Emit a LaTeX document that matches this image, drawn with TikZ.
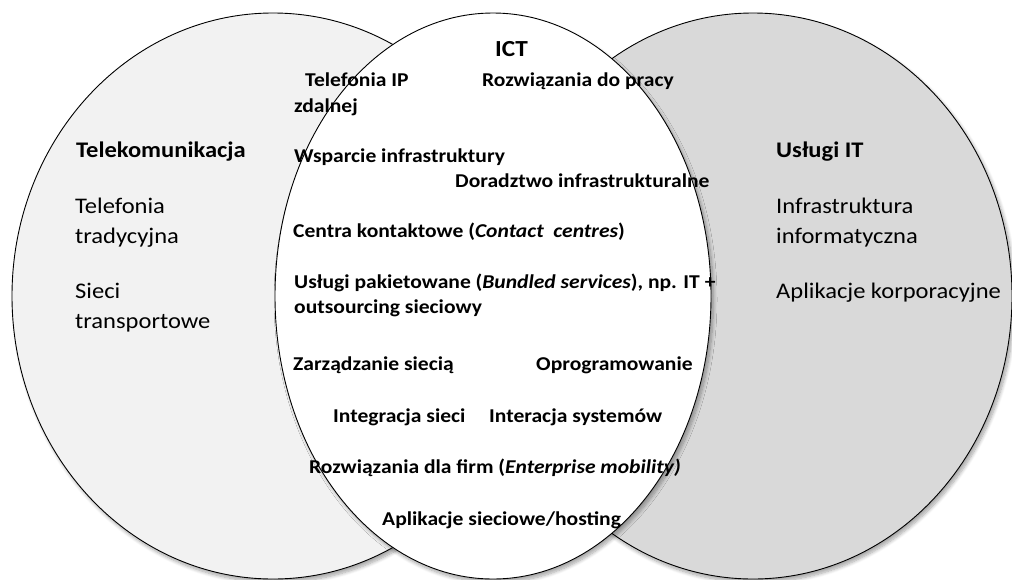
\documentclass[tikz,border=0pt]{standalone}
\usepackage{fontspec}
\setmainfont{Carlito}[FakeStretch=1.1]
\usetikzlibrary{shapes.geometric,shadows.blur}
\definecolor{telefill}{HTML}{F2F2F2}
\definecolor{itfill}{HTML}{D9D9D9}
\tikzset{
  circ/.style={ellipse, draw=black, line width=0.9pt, inner sep=0pt,
    blur shadow={shadow xshift=2.5pt, shadow yshift=-3.5pt, shadow blur radius=3.5pt, shadow blur steps=8, shadow opacity=35}},
  inner/.style={anchor=base west, inner sep=0pt, font=\fontsize{19.6}{23}\selectfont\bfseries},
  outer/.style={anchor=base west, inner sep=0pt, font=\fontsize{22.3}{26}\selectfont},
  outerhead/.style={outer, font=\fontsize{22.3}{26}\selectfont\bfseries},
}
\begin{document}
\begin{tikzpicture}[x=1pt,y=-1pt]
\useasboundingbox (0,0) rectangle (1012,579);
\node[circ, fill=telefill, minimum width=522pt, minimum height=566pt] (tele) at (273,296) {};
\node[circ, fill=itfill, minimum width=518pt, minimum height=566pt] (it) at (753,296) {};
\node[circ, fill=white, minimum width=436pt, minimum height=566pt] (ict) at (493,296) {};

% left
\node[outerhead] (tk) at (76,157) {Telekomunikacja};
\node[outer] (t1) at (75,213) {Telefonia};
\node[outer] (t2) at (75,243) {tradycyjna};
\node[outer] (t3) at (75,298) {Sieci};
\node[outer] (t4) at (75,328) {transportowe};

% right
\node[outerhead] (ih) at (776,157) {Usługi IT};
\node[outer] (i1) at (776,213) {Infrastruktura};
\node[outer] (i2) at (776,243) {informatyczna};
\node[outer] (i3) at (776,298) {Aplikacje korporacyjne};

% middle
\node[inner, font=\fontsize{23}{27}\selectfont\bfseries] (icth) at (495,56) {ICT};
\node[inner] (m1) at (305,86) {Telefonia IP};
\node[inner] (m2) at (482,86) {Rozwiązania do pracy};
\node[inner] (m3) at (294,112) {zdalnej};
\node[inner] (m4) at (294,162) {Wsparcie infrastruktury};
\node[inner] (m5) at (455,187) {Doradztwo infrastrukturalne};
\node[inner] (m6) at (293,237) {Centra kontaktowe (\textit{Contact\ \ centres})};
\node[inner] (m7) at (294,288) {Usługi pakietowane (\textit{Bundled services}), np. IT +};
\node[inner] (m8) at (294,313) {outsourcing sieciowy};
\node[inner] (m9) at (293,370) {Zarządzanie siecią};
\node[inner] (m10) at (536,370) {Oprogramowanie};
\node[inner] (m11) at (333,422) {Integracja sieci};
\node[inner] (m12) at (489,422) {Interacja systemów};
\node[inner] (m13) at (309,473) {Rozwiązania dla firm (\textit{Enterprise mobility)}};
\node[inner] (m14) at (382,525) {Aplikacje sieciowe/hosting};
\end{tikzpicture}
\end{document}
